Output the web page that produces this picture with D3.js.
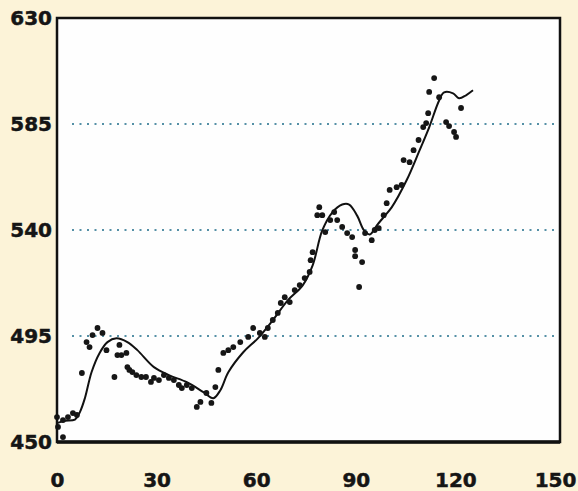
<!DOCTYPE html>
<html>
<head>
<meta charset="utf-8">
<script src="https://cdn.jsdelivr.net/npm/d3@7"></script>
<style>
  html, body { margin: 0; padding: 0; background: #fcf3d8; }
  svg { display: block; }
  .tick text { font-family: "DejaVu Sans", sans-serif; font-weight: bold; font-size: 20px; fill: #151515; stroke: #151515; stroke-width: 0.5px; }
</style>
</head>
<body>
<div id="graph_container"></div>
<script>
"use strict"

// smoothed curve
var curveX = [0, 2.4, 5.4, 6.9, 8.4, 10.4, 12.8, 15.2, 17.9, 21.2, 24.2, 29.2, 33.7, 39.1, 44.1, 47.1,
  49.2, 51.6, 56.1, 60.5, 65, 69.5, 74, 77, 79.9, 82.9, 85.9, 88, 90.4, 92.5, 94.2, 96.3, 98.4,
  100.8, 105.3, 109.2, 112.1, 115.1, 116.6, 119.3, 121.1, 123.2, 125.3];
var curveY = [458, 459, 459.5, 462.7, 468.6, 479.6, 487.7, 492.4, 494, 492.4, 489, 481.8, 478.4, 475.4, 471.2, 468.6,
  472, 479.6, 488.1, 494, 501.7, 510.1, 516.5, 525, 539.8, 547.4, 550.8, 550.8, 546.1, 539.8, 538.1, 541.9, 545.5,
  549.6, 561.1, 573.8, 583.6, 595, 598.4, 598, 595.9, 597.2, 599.3];

// observed points
var dotX = [0, 0.3, 1.8, 3.3, 4.8, 6.0, 1.8, 7.5, 8.9, 9.8, 10.7, 12.2, 13.7, 14.9, 17.3, 18.2, 18.8, 19.4,
  20.9, 21.2, 21.8, 22.7, 23.9, 25.4, 26.8, 28.3, 29.2, 30.7, 32.2, 33.7, 35.2, 36.7, 37.6, 39.1, 40.6,
  42.1, 43.2, 45, 46.5, 47.7, 48.6, 50.1, 51.6, 53.1, 55.2, 57.6, 59.1, 61.1, 62.6, 63.5, 65, 66.5, 67.4,
  68.6, 70.1, 71.6, 73.1, 74.6, 76.1, 76.4, 77, 78.4, 79, 79.9, 80.8, 82.3, 83.5, 84.4, 85.9, 87.4, 88.9,
  89.8, 89.8, 91.9, 91, 92.8, 94.8, 95.7, 96.9, 98.4, 99.3, 100.2, 102.3, 103.8, 104.4, 106.2, 107.4,
  108.9, 110.3, 111.2, 111.8, 112.1, 113.6, 115.1, 117.2, 118.1, 119.6, 120.2, 121.7];
var dotY = [460.6, 456.4, 459.3, 460.6, 462.3, 461.5, 452.1, 479.3, 492.4, 490.3, 495.4, 498.4, 496.3, 489, 477.6, 486.9, 491.2, 486.9,
  487.8, 481.8, 480.6, 479.7, 478.4, 477.6, 477.6, 475.5, 477.2, 476.3, 478.4, 477.2, 476.3, 474.2, 472.9, 474.2, 472.9,
  464.9, 467, 470.8, 466.6, 473.3, 480.6, 487.8, 489, 490.3, 492.4, 494.6, 498.4, 496.3, 494.6, 498.4, 501.8, 504.8, 509,
  511.5, 509.4, 514.5, 516.6, 519.6, 522.2, 527.2, 530.6, 546.3, 549.7, 546.3, 539.1, 544.2, 547.6, 544.2, 541.3, 538.7, 537,
  531.5, 528.9, 526.4, 515.8, 538.7, 535.7, 540, 540.8, 546.3, 551.4, 557, 558.2, 559.1, 569.7, 568.8, 573.9,
  578.2, 583.7, 585.4, 589.6, 598.6, 604.5, 596.4, 585.8, 584.1, 581.6, 579.5, 591.8];

var xTicks = [0, 30, 60, 90, 120, 150];
var yTicks = [450, 495, 540, 585, 630];
var gridValues = [495, 540, 585];

var margin = {top: 18, right: 18, bottom: 49, left: 57},
  width = 578 - margin.left - margin.right,
  height = 491 - margin.top - margin.bottom;

let svg = d3.select("#graph_container")
            .append("svg")
                .attr("width", width + margin.left + margin.right)
                .attr("height", height + margin.top + margin.bottom)
            .append("g")
                .attr("transform", "translate(" + margin.left + "," + margin.top + ")");

const x = d3.scaleLinear().domain([0, 150]).range([0, width - 5]);
const y = d3.scaleLinear().domain([450, 630]).range([height, 0]);

// plot area
svg.append("rect")
  .attr("x", 0)
  .attr("y", 0)
  .attr("width", width)
  .attr("height", height)
  .attr("fill", "#fefefe");

// dotted grid
svg.append("g")
  .selectAll("line")
  .data(gridValues)
  .join("line")
    .attr("x1", 15)
    .attr("x2", width)
    .attr("y1", d => y(d))
    .attr("y2", d => y(d))
    .attr("stroke", "#5590a6")
    .attr("stroke-width", 2.2)
    .attr("stroke-dasharray", "2,5.5");

// curve
const points = curveX.map((d, i) => [d, curveY[i]]);
svg.append("path")
  .datum(points)
  .attr("fill", "none")
  .attr("stroke", "#111")
  .attr("stroke-width", 2)
  .attr("stroke-linejoin", "round")
  .attr("d", d3.line()
    .x(d => x(d[0]))
    .y(d => y(d[1]))
    .curve(d3.curveCatmullRom.alpha(0.5)));

// observations
svg.append("g")
  .selectAll("circle")
  .data(dotX.map((d, i) => [d, dotY[i]]))
  .join("circle")
    .attr("cx", d => x(d[0]))
    .attr("cy", d => y(d[1]))
    .attr("r", 2.9)
    .attr("fill", "#161616");

// frame
svg.append("rect")
  .attr("x", 0)
  .attr("y", 0)
  .attr("width", width)
  .attr("height", height)
  .attr("fill", "none")
  .attr("stroke", "#111")
  .attr("stroke-width", 2.5);

svg.append("line")
  .attr("x1", 0).attr("x2", width)
  .attr("y1", height).attr("y2", height)
  .attr("stroke", "#111")
  .attr("stroke-width", 3.5);

// axes, labels only
svg.append("g")
  .attr("transform", "translate(0," + height + ")")
  .call(d3.axisBottom(x).tickValues(xTicks).tickSize(0).tickPadding(31))
  .call(g => g.select(".domain").remove());

svg.append("g")
  .call(d3.axisLeft(y).tickValues(yTicks).tickSize(0).tickPadding(5))
  .call(g => g.select(".domain").remove());
</script>
</body>
</html>
